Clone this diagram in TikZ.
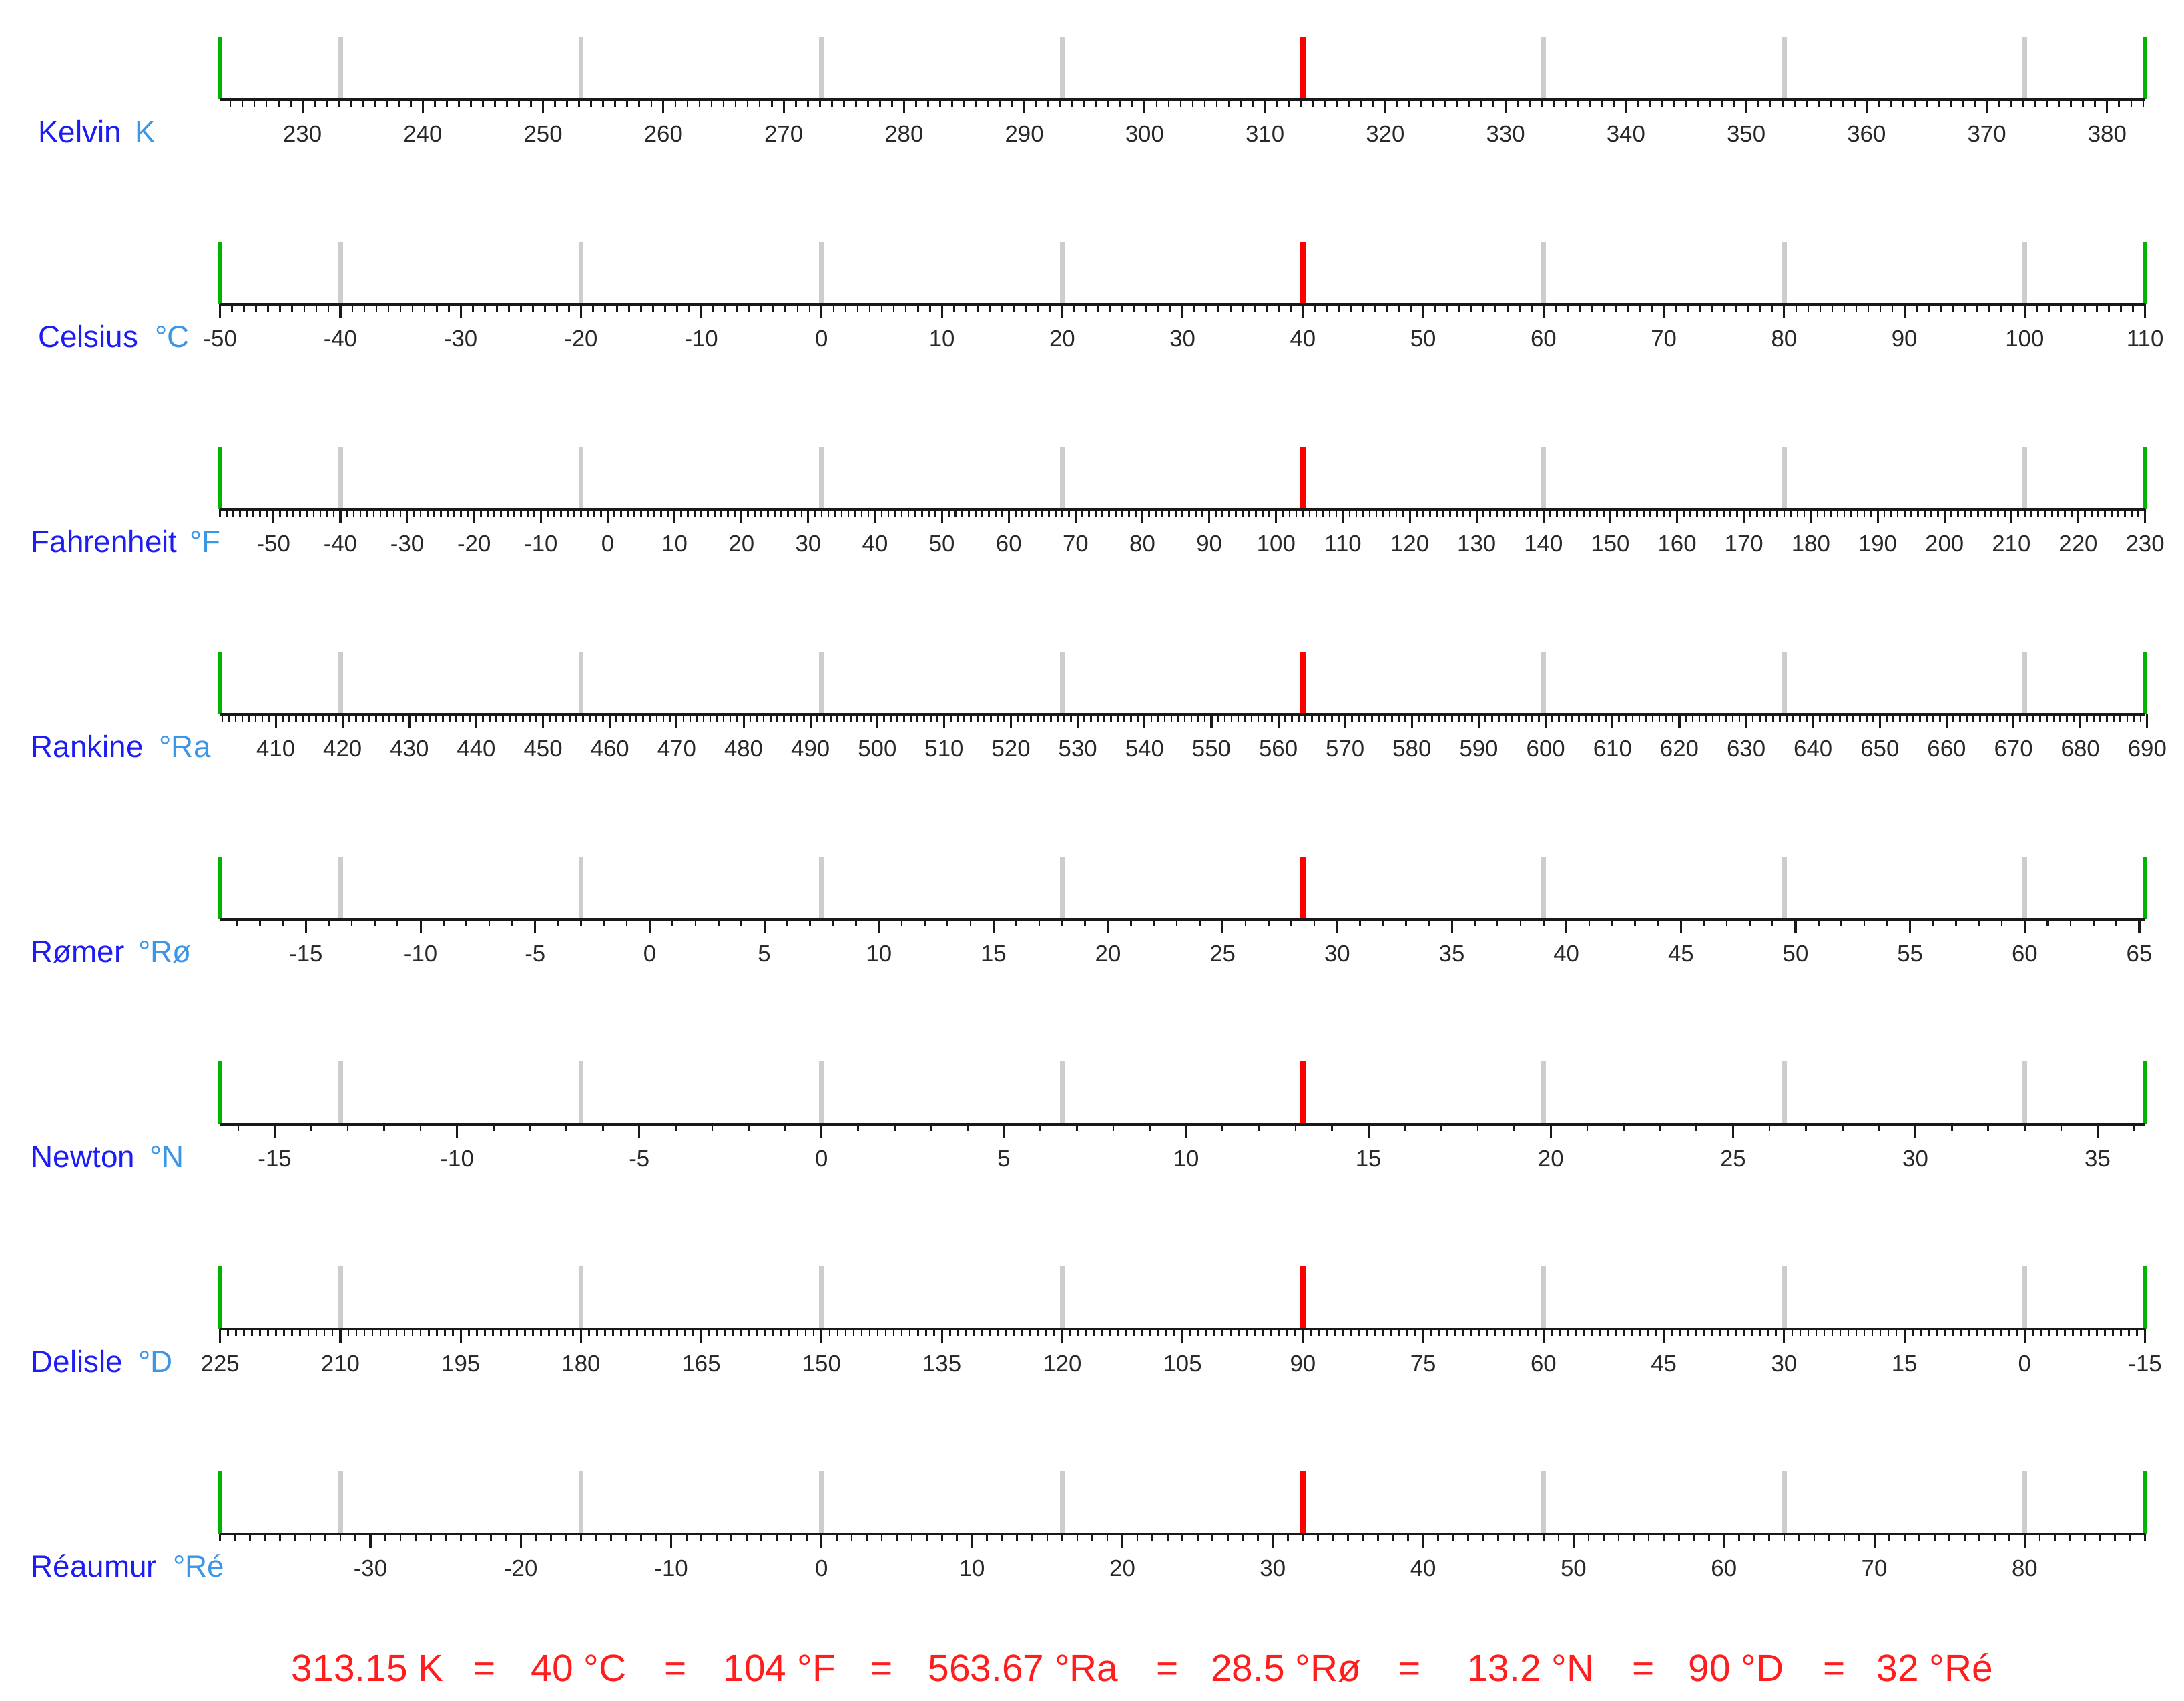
\documentclass[tikz,border=0pt]{standalone}
\usepackage{fontspec}
\setmainfont{Liberation Sans}
\definecolor{namec}{RGB}{28,28,245}
\definecolor{unitc}{RGB}{60,150,232}
\definecolor{labc}{RGB}{40,40,40}
\definecolor{axisc}{RGB}{25,25,25}
\definecolor{grayc}{RGB}{205,205,205}
\definecolor{greenc}{RGB}{0,180,0}
\definecolor{redc}{RGB}{255,0,0}
\definecolor{restc}{RGB}{255,30,30}
\newcommand\rowticks[5]{%
  \foreach \v in {#3} \draw[minortick] ({158+(#2)*8.6375},#1) -- ++(0,5);
  \foreach \v in {#4} {\draw[majortick] ({158+(#2)*8.6375},#1) -- ++(0,10);
    \node[ticklab] (#5\v) at ({158+(#2)*8.6375},#1+30.5) {\v};}
}
\newcommand\rowbars[1]{%
  \foreach \c in {-40,-20,0,20,60,80,100}
    \draw[graybar] ({158+(\c+50)*8.6375},#1) -- ++(0,-45);
  \draw[redbar] ({158+90*8.6375},#1) -- ++(0,-45);
  \draw[greenbar] (158,#1) -- ++(0,-45);
  \draw[greenbar] (1540,#1) -- ++(0,-45);
  \draw[axisline] (158,#1) -- (1540,#1);
}
\begin{document}
\begin{tikzpicture}[x=0.02cm,y=-0.02cm,
  axisline/.style={line width=1.1pt,draw=axisc},
  minortick/.style={line width=0.75pt,draw=axisc},
  majortick/.style={line width=0.85pt,draw=axisc},
  graybar/.style={line width=2pt,draw=grayc},
  redbar/.style={line width=2pt,draw=redc},
  greenbar/.style={line width=2pt,draw=greenc},
  ticklab/.style={anchor=base,text=labc,font=\fontsize{9.5}{11}\selectfont,inner sep=0pt},
  scalename/.style={anchor=base west,text=namec,font=\fontsize{12.5}{15}\selectfont,inner sep=0pt},
  unitname/.style={anchor=base west,text=unitc,font=\fontsize{12.5}{15}\selectfont,inner sep=0pt},
  result/.style={anchor=base west,text=restc,font=\fontsize{15.5}{18}\selectfont,inner sep=0pt},
  eqsign/.style={anchor=base,text=restc,font=\fontsize{15.5}{18}\selectfont,inner sep=0pt}]
\useasboundingbox (0,0) rectangle (1568,1221);
% Kelvin
\rowbars{71.5}
\rowticks{71.5}{(\v)-223.15}{224,...,383}{230,240,...,380}{k}
\node[scalename] (nK) at (27,102.5) {Kelvin};
\node[unitname] (uK) at (96.6,102.5) {K};
% Celsius
\rowbars{218.6}
\rowticks{218.6}{(\v)+50}{-50,...,110}{-50,-40,...,110}{c}
\node[scalename] (nC) at (27,249.6) {Celsius};
\node[unitname] (uC) at (111,249.6) {°C};
% Fahrenheit
\rowbars{365.7}
\rowticks{365.7}{((\v)+58)*5/9}{-58,...,230}{-50,-40,...,230}{f}
\node[scalename] (nF) at (22,396.7) {Fahrenheit};
\node[unitname] (uF) at (136,396.7) {°F};
% Rankine
\rowbars{512.8}
\rowticks{512.8}{((\v)-401.67)*5/9}{402,...,689}{410,420,...,690}{r}
\node[scalename] (nR) at (22,543.8) {Rankine};
\node[unitname] (uR) at (114,543.8) {°Ra};
% Romer
\rowbars{659.9}
\rowticks{659.9}{((\v)+18.75)*40/21}{-18,...,65}{-15,-10,...,65}{o}
\node[scalename] (nO) at (22,690.9) {Rømer};
\node[unitname] (uO) at (99,690.9) {°Rø};
% Newton
\rowbars{807.0}
\rowticks{807.0}{((\v)+16.5)*100/33}{-16,...,36}{-15,-10,...,35}{n}
\node[scalename] (nN) at (22,838.0) {Newton};
\node[unitname] (uN) at (107,838.0) {°N};
% Delisle
\rowbars{954.1}
\rowticks{954.1}{(225-(\v))*2/3}{-15,...,225}{225,210,...,-15}{d}
\node[scalename] (nD) at (22,985.1) {Delisle};
\node[unitname] (uD) at (99,985.1) {°D};
% Reaumur
\rowbars{1101.2}
\rowticks{1101.2}{((\v)+40)*1.25}{-40,...,88}{-30,-20,...,80}{e}
\node[scalename] (nE) at (22,1132.2) {Réaumur};
\node[unitname] (uE) at (124,1132.2) {°Ré};
% result line
\node[result] (r1) at (209,1207) {313.15 K};
\node[eqsign] (e1) at (348,1207) {=};
\node[result] (r2) at (381,1207) {40 °C};
\node[eqsign] (e2) at (485,1207) {=};
\node[result] (r3) at (519,1207) {104 °F};
\node[eqsign] (e3) at (633,1207) {=};
\node[result] (r4) at (666,1207) {563.67 °Ra};
\node[eqsign] (e4) at (838,1207) {=};
\node[result] (r5) at (869,1207) {28.5 °Rø};
\node[eqsign] (e5) at (1012,1207) {=};
\node[result] (r6) at (1053,1207) {13.2 °N};
\node[eqsign] (e6) at (1180,1207) {=};
\node[result] (r7) at (1212,1207) {90 °D};
\node[eqsign] (e7) at (1317,1207) {=};
\node[result] (r8) at (1347,1207) {32 °Ré};
\end{tikzpicture}
\end{document}
